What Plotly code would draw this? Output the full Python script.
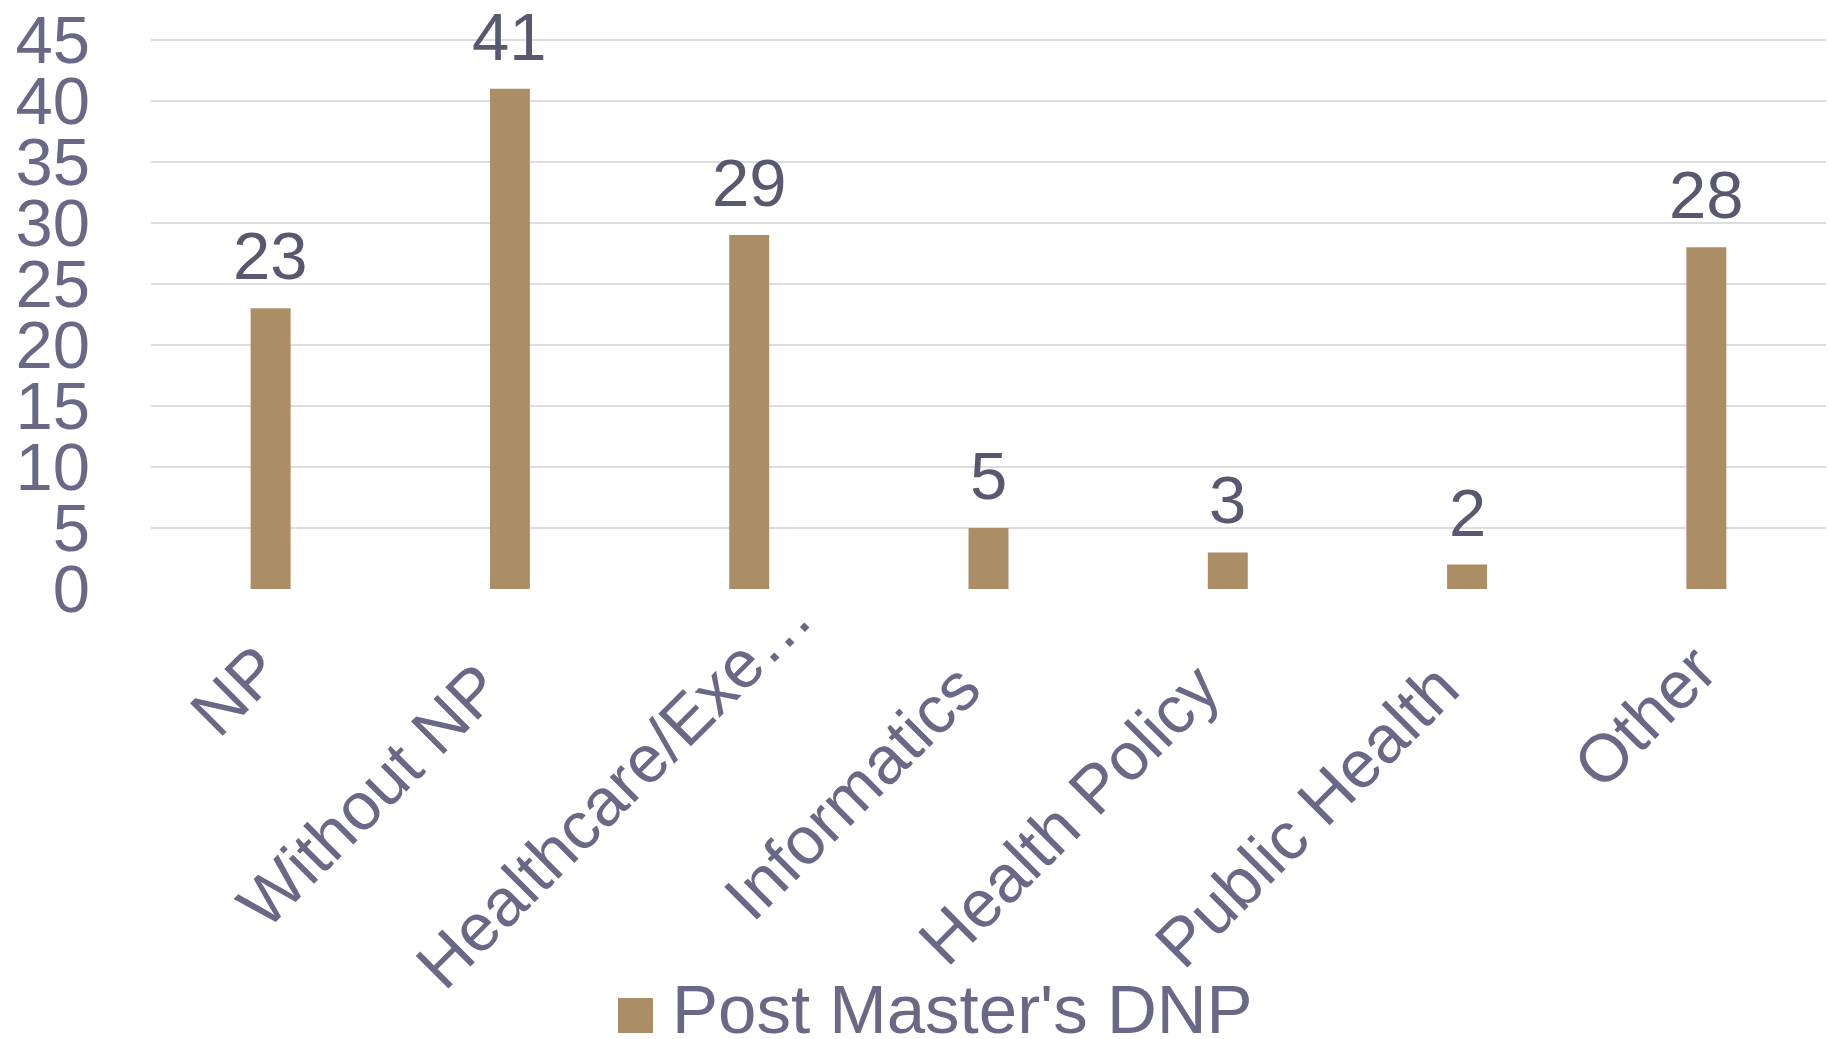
import plotly.graph_objects as go

categories = ["NP", "Without NP", "Healthcare/Exe…", "Informatics", "Health Policy", "Public Health", "Other"]
values = [23, 41, 29, 5, 3, 2, 28]
series_name = "Post Master's DNP"
y_ticks = [0, 5, 10, 15, 20, 25, 30, 35, 40, 45]

BAR = "#ab8d66"
TICK = "#696987"
LABEL = "#585870"
GRID = "#dcdce2"
FONT = "Liberation Sans, Arial, sans-serif"
FS = 67

W, H = 1829, 1039
ML, MR, MT, MB = 151, 3, 38, 450
PW, PH = W - ML - MR, H - MT - MB
YMAX = 45.15

def px_x(p):
    return (p - ML) / PW

def px_y(p):
    return (H - MB - p) / PH

# Rotated labels in the reference sit at slightly different offsets along
# their direction; reproduce with trailing invisible spacing (layout only).
SHORT_PAD = "\u00a0" * 4      # short labels
LONG_PAD = "\u2002" * 3       # longer labels sit a bit further down-left
def pad_for(label):
    if label.endswith("…"):
        return ""
    return SHORT_PAD if len(label) <= 5 else LONG_PAD
ticktext = [c + pad_for(c) for c in categories]

fig = go.Figure()
fig.add_trace(go.Bar(
    x=categories, y=values, name=series_name,
    marker=dict(color=BAR, line=dict(width=0)),
    width=0.167,
    cliponaxis=False, showlegend=False,
))

for c, v in zip(categories, values):
    fig.add_annotation(x=c, y=v, xref="x", yref="y", text=str(v),
                       showarrow=False, xanchor="center", yanchor="bottom",
                       yshift=13, font=dict(family=FONT, size=FS, color=LABEL))

fig.update_layout(
    width=W, height=H,
    margin=dict(l=ML, r=MR, t=MT, b=MB, pad=0, autoexpand=False),
    paper_bgcolor="white", plot_bgcolor="white",
    font=dict(family=FONT, size=FS, color=TICK),
    bargap=0.833,
    xaxis=dict(
        tickmode="array", tickvals=categories, ticktext=ticktext,
        tickangle=-45, tickfont=dict(family=FONT, size=FS, color=TICK),
        showgrid=False, showline=False, zeroline=False, ticks="",
        ticklabelstandoff=-26, ticklabelshift=43, automargin=False,
    ),
    yaxis=dict(
        range=[0, YMAX], tickvals=y_ticks, ticktext=[str(t) for t in y_ticks],
        tickfont=dict(family=FONT, size=FS, color=TICK),
        showgrid=True, gridcolor=GRID, gridwidth=2,
        zeroline=False, showline=False, ticks="",
        ticklabelstandoff=60, automargin=False,
    ),
)

# custom legend (large swatch)
fig.add_shape(type="rect", xref="paper", yref="paper",
              x0=px_x(618), x1=px_x(653), y0=px_y(1033), y1=px_y(998),
              fillcolor=BAR, line=dict(width=0))
fig.add_annotation(xref="paper", yref="paper", x=px_x(670), y=px_y(1010),
                   xanchor="left", yanchor="middle", showarrow=False,
                   text=series_name, font=dict(family=FONT, size=69, color=TICK))

fig.write_html("out.html", config={"displayModeBar": False},
               post_script="document.body.style.margin='0';")
